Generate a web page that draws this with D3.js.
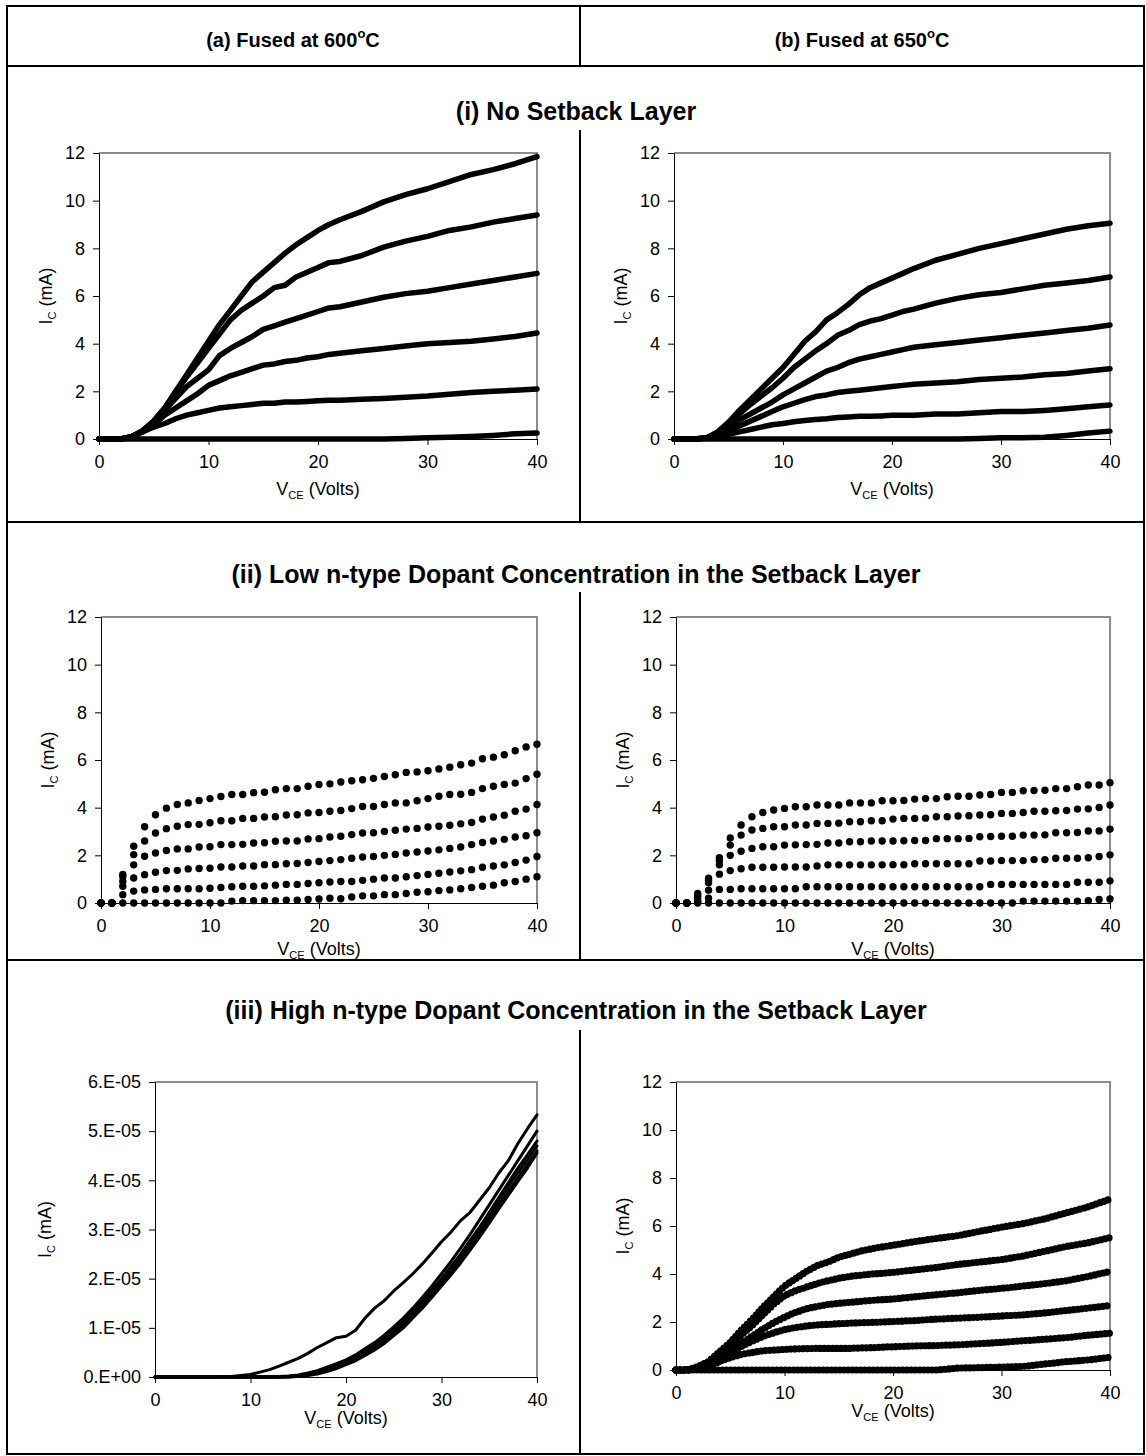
<!DOCTYPE html>
<html lang="en">
<head>
  <meta charset="utf-8">
  <title>Collector characteristics, fused at 600 and 650 C</title>
  <style>
    body { margin: 0; background: #fff; }
    svg { display: block; font-family: "Liberation Sans", Arial, sans-serif; }
  </style>
</head>
<body>

<div id="chart"></div>

<script src="https://cdn.jsdelivr.net/npm/d3@7/dist/d3.min.js"></script>
<script>

  ////////////////////////////////////////////////// DATA

  var vceTicks = [0, 10, 20, 30, 40];
  var icTicks = [0, 2, 4, 6, 8, 10, 12];
  var icTicksHigh = [0, 1, 2, 3, 4, 5, 6];   // in units of 1E-05 mA

  // (i) no setback layer - VCE sweep (Volts)
  var vceI = [0,1,2,3,4,5,6,7,8,9,10,11,12,13,14,15,16,17,18,19,20,21,22,24,26,28,30,32,34,36,38,40];

  // IC (mA), fused at 600C
  var icNoSetback600 = [
    [0,0,0,0.1,0.35,0.75,1.3,2.0,2.7,3.4,4.1,4.8,5.4,6.0,6.6,7.0,7.4,7.8,8.15,8.45,8.75,9.0,9.2,9.55,9.95,10.25,10.5,10.8,11.1,11.3,11.55,11.85],
    [0,0,0,0.1,0.35,0.75,1.3,1.95,2.6,3.2,3.8,4.4,5.0,5.4,5.7,6.0,6.35,6.45,6.8,7.0,7.2,7.4,7.45,7.7,8.05,8.3,8.5,8.75,8.9,9.1,9.25,9.4],
    [0,0,0,0.1,0.35,0.7,1.2,1.7,2.2,2.55,2.9,3.5,3.8,4.05,4.3,4.6,4.75,4.9,5.05,5.2,5.35,5.5,5.55,5.75,5.95,6.1,6.2,6.35,6.5,6.65,6.8,6.95],
    [0,0,0,0.1,0.3,0.6,1.0,1.3,1.6,1.9,2.25,2.45,2.65,2.8,2.95,3.1,3.15,3.25,3.3,3.4,3.45,3.55,3.6,3.7,3.8,3.9,4.0,4.05,4.1,4.2,4.3,4.45],
    [0,0,0,0.1,0.3,0.5,0.65,0.85,1.0,1.1,1.2,1.3,1.35,1.4,1.45,1.5,1.5,1.55,1.55,1.57,1.6,1.63,1.63,1.67,1.7,1.75,1.8,1.88,1.95,2.0,2.05,2.1],
    [0,0,0,0,0,0,0,0,0,0,0,0,0,0,0,0,0,0,0,0,0,0,0,0,0,0.02,0.05,0.07,0.1,0.15,0.22,0.25]
  ];

  // IC (mA), fused at 650C
  var icNoSetback650 = [
    [0,0,0,0.05,0.3,0.7,1.2,1.65,2.1,2.55,3.0,3.55,4.1,4.5,5.0,5.3,5.65,6.05,6.35,6.55,6.75,6.95,7.15,7.5,7.75,8.0,8.2,8.4,8.6,8.8,8.95,9.05],
    [0,0,0,0.05,0.25,0.6,1.05,1.45,1.8,2.15,2.55,3.0,3.35,3.7,4.0,4.35,4.55,4.8,4.95,5.05,5.2,5.35,5.45,5.7,5.9,6.05,6.15,6.3,6.45,6.55,6.65,6.8],
    [0,0,0,0.05,0.2,0.5,0.8,1.05,1.3,1.55,1.85,2.1,2.35,2.6,2.85,3.0,3.2,3.35,3.45,3.55,3.65,3.75,3.85,3.95,4.05,4.15,4.25,4.35,4.45,4.55,4.65,4.78],
    [0,0,0,0.05,0.15,0.35,0.55,0.75,0.95,1.15,1.35,1.5,1.65,1.78,1.85,1.95,2.0,2.05,2.1,2.15,2.2,2.25,2.3,2.35,2.4,2.5,2.55,2.6,2.7,2.75,2.85,2.95],
    [0,0,0,0.03,0.1,0.2,0.3,0.4,0.5,0.6,0.65,0.72,0.78,0.82,0.85,0.9,0.92,0.95,0.95,0.97,1.0,1.0,1.0,1.05,1.05,1.1,1.15,1.15,1.2,1.27,1.35,1.43],
    [0,0,0,0,0,0,0,0,0,0,0,0,0,0,0,0,0,0,0,0,0,0,0,0,0,0.02,0.05,0.05,0.07,0.15,0.25,0.33]
  ];

  // (ii) low n-type setback layer - VCE steps of 1 V
  var vceII = [0,1,2,3,4,5,6,7,8,9,10,11,12,13,14,15,16,17,18,19,20,21,22,23,24,25,26,27,28,29,30,31,32,33,34,35,36,37,38,39,40];

  var icLowDoped600 = [
    [0,0,1.2,2.38,3.2,3.7,3.98,4.13,4.2,4.3,4.38,4.47,4.55,4.55,4.63,4.65,4.75,4.8,4.8,4.9,4.97,5.0,5.08,5.13,5.17,5.23,5.31,5.38,5.48,5.5,5.55,5.62,5.7,5.8,5.87,6.05,6.12,6.22,6.39,6.55,6.66],
    [0,0,1.1,2.03,2.6,2.94,3.12,3.22,3.29,3.3,3.37,3.45,3.45,3.55,3.55,3.61,3.62,3.69,3.7,3.78,3.8,3.85,3.88,3.96,4.05,4.05,4.13,4.2,4.2,4.29,4.38,4.48,4.55,4.56,4.64,4.8,4.9,4.97,5.03,5.22,5.4],
    [0,0,0.9,1.6,1.96,2.1,2.2,2.27,2.27,2.35,2.36,2.45,2.45,2.46,2.52,2.53,2.59,2.6,2.6,2.69,2.7,2.77,2.8,2.87,2.94,2.95,3.0,3.05,3.1,3.13,3.19,3.22,3.26,3.32,3.38,3.52,3.61,3.68,3.85,3.94,4.13],
    [0,0,0.7,1.05,1.19,1.29,1.36,1.37,1.43,1.45,1.46,1.51,1.51,1.55,1.55,1.61,1.61,1.65,1.66,1.7,1.74,1.78,1.82,1.88,1.93,1.95,2.0,2.04,2.1,2.14,2.18,2.23,2.29,2.35,2.45,2.54,2.6,2.67,2.77,2.82,2.95],
    [0,0,0.35,0.5,0.55,0.57,0.6,0.6,0.6,0.6,0.62,0.65,0.68,0.7,0.7,0.72,0.75,0.78,0.78,0.82,0.85,0.88,0.9,0.9,0.95,1.0,1.05,1.05,1.1,1.15,1.2,1.25,1.3,1.35,1.4,1.5,1.55,1.6,1.7,1.8,1.95],
    [0,0,0,0,0,0,0,0,0,0,0,0,0.08,0.1,0.1,0.1,0.1,0.12,0.12,0.15,0.17,0.2,0.18,0.25,0.3,0.3,0.35,0.35,0.4,0.45,0.47,0.52,0.55,0.6,0.65,0.7,0.75,0.85,0.9,1.0,1.1]
  ];

  var icLowDoped650 = [
    [0,0,0.4,1.04,1.9,2.73,3.27,3.62,3.8,3.9,3.97,4.04,4.04,4.11,4.11,4.11,4.2,4.2,4.2,4.29,4.29,4.3,4.36,4.38,4.38,4.46,4.48,4.48,4.53,4.55,4.64,4.64,4.71,4.72,4.73,4.8,4.8,4.88,4.95,4.95,5.05],
    [0,0,0.3,0.95,1.76,2.43,2.85,3.06,3.13,3.2,3.2,3.27,3.27,3.34,3.34,3.35,3.41,3.41,3.45,3.45,3.52,3.55,3.55,3.56,3.62,3.62,3.65,3.66,3.69,3.7,3.76,3.76,3.8,3.85,3.85,3.87,3.88,3.94,3.95,4.01,4.11],
    [0,0,0.23,0.85,1.6,2.0,2.17,2.29,2.36,2.36,2.43,2.44,2.45,2.46,2.52,2.52,2.57,2.57,2.6,2.6,2.6,2.61,2.62,2.62,2.7,2.7,2.7,2.71,2.78,2.79,2.8,2.8,2.85,2.85,2.86,2.95,2.95,2.96,3.02,3.02,3.1],
    [0,0,0.1,0.54,1.21,1.36,1.44,1.5,1.5,1.5,1.51,1.51,1.51,1.55,1.6,1.6,1.6,1.6,1.6,1.6,1.61,1.61,1.65,1.65,1.65,1.65,1.65,1.65,1.76,1.76,1.78,1.78,1.78,1.82,1.82,1.88,1.88,1.88,1.9,1.95,2.02],
    [0,0,0.04,0.2,0.57,0.57,0.6,0.6,0.6,0.6,0.6,0.6,0.68,0.68,0.68,0.68,0.68,0.68,0.68,0.68,0.68,0.68,0.68,0.68,0.68,0.68,0.68,0.68,0.68,0.78,0.78,0.78,0.78,0.78,0.78,0.78,0.78,0.87,0.87,0.87,0.93],
    [0,0,0,0,0,0,0,0,0,0,0,0,0,0,0,0,0,0,0,0,0,0,0,0,0,0,0,0,0,0,0,0,0.08,0.08,0.08,0.08,0.08,0.08,0.1,0.15,0.17]
  ];

  // (iii) high n-type setback layer
  var vceIIIa = [0,2,4,6,8,10,11,12,13,14,15,16,17,18,19,20,21,22,23,24,25,26,27,28,29,30,31,32,33,34,35,36,37,38,39,40];

  // IC in units of 1E-05 mA, fused at 600C
  var icHighDoped600 = [
    [0,0,0,0,0.01,0.05,0.1,0.15,0.22,0.3,0.38,0.48,0.6,0.7,0.8,0.83,0.95,1.2,1.4,1.55,1.75,1.92,2.1,2.3,2.52,2.75,2.95,3.18,3.35,3.6,3.85,4.15,4.4,4.75,5.05,5.33],
    [0,0,0,0,0,0,0,0,0.01,0.02,0.04,0.08,0.13,0.2,0.27,0.35,0.45,0.58,0.7,0.85,1.02,1.2,1.4,1.62,1.85,2.1,2.35,2.62,2.9,3.2,3.5,3.8,4.1,4.4,4.7,5.0],
    [0,0,0,0,0,0,0,0,0,0.01,0.03,0.06,0.1,0.16,0.23,0.32,0.42,0.53,0.66,0.8,0.97,1.15,1.35,1.55,1.77,2.0,2.25,2.5,2.78,3.05,3.35,3.65,3.95,4.25,4.52,4.8],
    [0,0,0,0,0,0,0,0,0,0.01,0.02,0.05,0.09,0.14,0.21,0.3,0.38,0.5,0.62,0.76,0.92,1.1,1.3,1.5,1.72,1.95,2.2,2.45,2.72,3.0,3.28,3.58,3.88,4.15,4.42,4.7],
    [0,0,0,0,0,0,0,0,0,0,0.02,0.04,0.08,0.13,0.19,0.28,0.36,0.47,0.58,0.72,0.88,1.05,1.25,1.45,1.67,1.9,2.12,2.38,2.65,2.92,3.2,3.5,3.78,4.05,4.32,4.6],
    [0,0,0,0,0,0,0,0,0,0,0.01,0.03,0.06,0.11,0.17,0.25,0.33,0.44,0.55,0.68,0.84,1.0,1.2,1.4,1.62,1.85,2.08,2.32,2.58,2.85,3.13,3.42,3.7,3.98,4.25,4.55]
  ];

  var vceIIIb = [0,1,2,3,4,5,6,7,8,9,10,11,12,13,14,15,16,17,18,19,20,22,24,26,28,30,32,34,36,38,40];

  // IC (mA), fused at 650C
  var icHighDoped650 = [
    [0,0,0.14,0.35,0.75,1.15,1.65,2.1,2.6,3.05,3.5,3.8,4.1,4.35,4.5,4.7,4.82,4.95,5.05,5.13,5.2,5.35,5.48,5.6,5.78,5.95,6.1,6.3,6.55,6.8,7.12],
    [0,0,0.1,0.3,0.6,1.0,1.45,1.85,2.3,2.75,3.1,3.3,3.45,3.6,3.72,3.82,3.9,3.95,4.0,4.03,4.07,4.17,4.27,4.4,4.5,4.6,4.75,4.95,5.15,5.3,5.52],
    [0,0,0.08,0.25,0.5,0.8,1.1,1.4,1.7,1.97,2.2,2.4,2.55,2.65,2.73,2.78,2.82,2.86,2.9,2.93,2.96,3.05,3.14,3.22,3.32,3.4,3.5,3.6,3.72,3.9,4.11],
    [0,0,0.05,0.2,0.42,0.7,0.98,1.2,1.4,1.55,1.68,1.77,1.83,1.88,1.9,1.93,1.95,1.97,1.98,2.0,2.02,2.06,2.12,2.16,2.2,2.25,2.3,2.38,2.48,2.58,2.69],
    [0,0,0.04,0.15,0.35,0.52,0.65,0.73,0.8,0.83,0.86,0.88,0.89,0.9,0.9,0.9,0.9,0.92,0.93,0.95,0.97,1.0,1.02,1.05,1.1,1.15,1.22,1.28,1.35,1.45,1.53],
    [0,0,0,0,0,0,0,0,0,0,0,0,0,0,0,0,0,0,0,0,0,0,0,0.08,0.1,0.12,0.15,0.25,0.35,0.42,0.53]
  ];

  ////////////////////////////////////////////////// SETUP

  var width = 1146, height = 1456;

  var svg = d3.select("#chart").append("svg")
              .attr("width", width)
              .attr("height", height);

  svg.append("rect").attr("width", width).attr("height", height).attr("fill", "#fff");

  // table frame
  var frame = svg.append("g").attr("stroke", "#000").attr("stroke-width", 2).attr("fill", "none");
  frame.append("rect").attr("x", 7).attr("y", 6).attr("width", 1137).attr("height", 1448);
  [66, 522, 960].forEach(function(yy){
    frame.append("line").attr("x1", 7).attr("x2", 1144).attr("y1", yy).attr("y2", yy);
  });
  [[6, 66], [130, 522], [592, 960], [1030, 1454]].forEach(function(s){
    frame.append("line").attr("x1", 580).attr("x2", 580).attr("y1", s[0]).attr("y2", s[1]);
  });

  // column headers
  function header(cx, letter, temp){
    var t = svg.append("text").attr("x", cx).attr("y", 47)
               .attr("text-anchor", "middle").attr("font-size", 20).attr("font-weight", "bold");
    t.append("tspan").text("(" + letter + ") Fused at " + temp);
    t.append("tspan").attr("font-size", 13).attr("dy", -9).text("o");
    t.append("tspan").attr("dy", 9).text("C");
  }
  header(293, "a", "600");
  header(862, "b", "650");

  // row titles
  var rowTitles = [
    ["(i) No Setback Layer", 120],
    ["(ii) Low n-type Dopant Concentration in the Setback Layer", 583],
    ["(iii) High n-type Dopant Concentration in the Setback Layer", 1019]
  ];
  rowTitles.forEach(function(r){
    svg.append("text").attr("x", 576).attr("y", r[1])
       .attr("text-anchor", "middle").attr("font-size", 25).attr("font-weight", "bold")
       .text(r[0]);
  });

  ////////////////////////////////////////////////// PANELS

  var panels = [
    { x0: 99,  x1: 537,  y0: 153,  y1: 439,  xt: 56, vce: vceI,    ic: icNoSetback600, yTicks: icTicks, yMax: 12, kind: "line" },
    { x0: 674, x1: 1110, y0: 153,  y1: 439,  xt: 56, vce: vceI,    ic: icNoSetback650, yTicks: icTicks, yMax: 12, kind: "line" },
    { x0: 101, x1: 537,  y0: 617,  y1: 903,  xt: 52, vce: vceII,   ic: icLowDoped600,  yTicks: icTicks, yMax: 12, kind: "dots" },
    { x0: 676, x1: 1110, y0: 617,  y1: 903,  xt: 52, vce: vceII,   ic: icLowDoped650,  yTicks: icTicks, yMax: 12, kind: "dots" },
    { x0: 155, x1: 537,  y0: 1082, y1: 1377, xt: 47, vce: vceIIIa, ic: icHighDoped600, yTicks: icTicksHigh, yMax: 6, kind: "thin", sci: true },
    { x0: 676, x1: 1110, y0: 1082, y1: 1370, xt: 47, vce: vceIIIb, ic: icHighDoped650, yTicks: icTicks, yMax: 12, kind: "beads" }
  ];

  panels.forEach(drawPanel);

  function drawPanel(p){
    var x = d3.scaleLinear().domain([0, 40]).range([p.x0, p.x1]);
    var y = d3.scaleLinear().domain([0, p.yMax]).range([p.y1, p.y0]);
    var g = svg.append("g");

    // grey plot-area border (top + right)
    g.append("path")
     .attr("d", "M" + p.x0 + "," + p.y0 + "H" + p.x1 + "V" + p.y1)
     .attr("fill", "none").attr("stroke", "#8c8c8c").attr("stroke-width", 2);

    // axes
    var xAxis = g.append("g").attr("transform", "translate(0," + p.y1 + ")")
                 .call(d3.axisBottom(x).tickValues(vceTicks).tickSize(6).tickSizeOuter(0).tickPadding(10));
    var yAxis = g.append("g").attr("transform", "translate(" + p.x0 + ",0)")
                 .call(d3.axisLeft(y).tickValues(p.yTicks).tickSize(6).tickSizeOuter(0).tickPadding(8)
                         .tickFormat(function(d){
                           if (!p.sci) return d;
                           return d === 0 ? "0.E+00" : d + ".E-05";
                         }));
    [xAxis, yAxis].forEach(function(a){
      a.attr("font-size", 18).attr("font-family", null);
      a.selectAll("line, path").attr("stroke", "#000");
      a.selectAll("text").attr("fill", "#000");
    });

    // axis titles
    var cx = (p.x0 + p.x1) / 2;
    var xt = g.append("text").attr("x", cx).attr("y", p.y1 + p.xt)
              .attr("text-anchor", "middle").attr("font-size", 18);
    xt.append("tspan").text("V");
    xt.append("tspan").attr("font-size", 11).attr("dy", 4).text("CE");
    xt.append("tspan").attr("dy", -4).text(" (Volts)");

    var cy = (p.y0 + p.y1) / 2;
    var lx = p.sci ? p.x0 - 104 : p.x0 - 47;
    var yt = g.append("text").attr("transform", "translate(" + lx + "," + cy + ") rotate(-90)")
              .attr("text-anchor", "middle").attr("font-size", 18);
    yt.append("tspan").text("I");
    yt.append("tspan").attr("font-size", 11).attr("dy", 4).text("C");
    yt.append("tspan").attr("dy", -4).text(" (mA)");

    // series
    p.ic.forEach(function(series){
      var pts = series.map(function(v, i){ return [x(p.vce[i]), y(v)]; });
      if (p.kind === "dots") {
        g.append("g").selectAll("circle").data(pts).enter().append("circle")
         .attr("cx", function(d){ return d[0]; })
         .attr("cy", function(d){ return d[1]; })
         .attr("r", 3.7).attr("fill", "#000");
      } else {
        var path = g.append("path").attr("d", d3.line()(pts)).attr("fill", "none")
                    .attr("stroke", "#000").attr("stroke-linejoin", "round").attr("stroke-linecap", "round");
        if (p.kind === "line") path.attr("stroke-width", 5.5);
        if (p.kind === "thin") path.attr("stroke-width", 3);
        if (p.kind === "beads") path.attr("stroke-width", 7.2).attr("stroke-dasharray", "0 4.2");
      }
    });
  }

</script>
</body>
</html>
